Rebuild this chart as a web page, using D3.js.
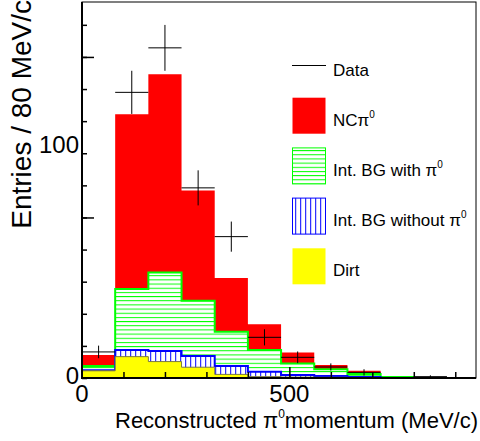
<!DOCTYPE html>
<html>
<head>
<meta charset="utf-8">
<script src="https://cdn.jsdelivr.net/npm/d3@7"></script>
<style>
  body { margin: 0; background: #fff; }
  svg { display: block; font-family: "Liberation Sans", Arial, sans-serif; }
</style>
</head>
<body>
<svg width="480" height="441"></svg>
<script>
// bins of 80 MeV/c
var binLow = [0, 80, 160, 240, 320, 400, 480, 560, 640, 720, 800, 880];
var binWidth = 80;

// per-component entries
var dirt      = [3.2, 9.5, 7.3, 4.8, 1.6, 0.6, 0.4, 0.3, 0.2, 0, 0, 0];
var bgNoPi0   = [0.2, 3.0, 4.7, 5.0, 3.7, 2.2, 0.9, 0.6, 0.2, 0, 0, 0];
var bgWithPi0 = [1.9, 27.1, 34.9, 24.6, 15.3, 9.7, 5.2, 3.0, 1.4, 0.4, 0, 0];
var ncPi0     = [4.9, 77.8, 88.3, 49.0, 23.9, 11.4, 4.8, 1.9, 1.4, 0.5, 0, 0];

var dataVals = [11.6, 127.1, 146.9, 84.6, 62.9, 18.1, 9.2, 4.9, 2.5, 0, 0.6, 0];
var dataErr  = [2.8, 9.6, 10.2, 7.8, 6.7, 3.6, 2.6, 1.6, 1.4, 0, 0.6, 0];

var xLabels = [0, 500];
var yLabels = [0, 100];

var svg = d3.select("svg");

var x = d3.scaleLinear().domain([0, 950]).range([82, 476]);
var y = d3.scaleLinear().domain([0, 167.3]).range([378, 2]);

var rows = binLow.map(function(lo, i) {
    return {lo: lo, dirt: dirt[i], bgNoPi0: bgNoPi0[i], bgWithPi0: bgWithPi0[i], ncPi0: ncPi0[i]};
});
var keys = ["dirt", "bgNoPi0", "bgWithPi0", "ncPi0"];
var stacked = d3.stack().keys(keys)(rows);

var defs = svg.append("defs");
defs.append("clipPath").attr("id", "plot")
    .append("rect").attr("x", 82).attr("y", 2).attr("width", 394).attr("height", 376);

var pg = defs.append("pattern").attr("id", "hatchGreen")
    .attr("patternUnits", "userSpaceOnUse").attr("width", 8).attr("height", 4.17);
pg.append("rect").attr("width", 8).attr("height", 4.17).attr("fill", "#fff");
pg.append("line").attr("x1", 0).attr("x2", 8).attr("y1", 0.5).attr("y2", 0.5)
    .attr("stroke", "#00ff00").attr("stroke-width", 1);

var pb = defs.append("pattern").attr("id", "hatchBlue")
    .attr("patternUnits", "userSpaceOnUse").attr("width", 5).attr("height", 8);
pb.append("rect").attr("width", 5).attr("height", 8).attr("fill", "#fff");
pb.append("line").attr("x1", 0.7).attr("x2", 0.7).attr("y1", 0).attr("y2", 8)
    .attr("stroke", "#0000ff").attr("stroke-width", 1);

var style = {
    ncPi0:     {fill: "#ff0000", stroke: "none", sw: 0},
    bgWithPi0: {fill: "url(#hatchGreen)", stroke: "#00ff00", sw: 2},
    bgNoPi0:   {fill: "url(#hatchBlue)", stroke: "#0000ff", sw: 2},
    dirt:      {fill: "#ffff00", stroke: "#7a7a40", sw: 1}
};

function stepPath(layer) {
    var p = d3.path();
    p.moveTo(x(binLow[0]), y(0));
    layer.forEach(function(d, i) {
        p.lineTo(x(binLow[i]), y(d[1]));
        p.lineTo(x(binLow[i] + binWidth), y(d[1]));
    });
    p.lineTo(x(binLow[binLow.length - 1] + binWidth), y(0));
    p.closePath();
    return p.toString();
}

var hist = svg.append("g").attr("clip-path", "url(#plot)");
// draw top of stack first, each sum from zero
stacked.slice().reverse().forEach(function(layer) {
    var s = style[layer.key];
    hist.append("path")
        .attr("d", stepPath(layer))
        .attr("fill", s.fill)
        .attr("stroke", s.stroke)
        .attr("stroke-width", s.sw);
});

// data points with error bars
var pts = hist.append("g").attr("stroke", "#000").attr("stroke-width", 1);
binLow.forEach(function(lo, i) {
    if (dataVals[i] <= 0) return;
    var cx = x(lo + binWidth / 2);
    pts.append("line")
        .attr("x1", x(lo)).attr("x2", x(lo + binWidth))
        .attr("y1", y(dataVals[i])).attr("y2", y(dataVals[i]));
    pts.append("line")
        .attr("x1", cx).attr("x2", cx)
        .attr("y1", y(dataVals[i] + dataErr[i])).attr("y2", y(dataVals[i] - dataErr[i]));
});

// frame
svg.append("rect").attr("x", 82).attr("y", 2).attr("width", 394).attr("height", 376)
    .attr("fill", "none").attr("stroke", "#000").attr("stroke-width", 1);

// y axis: minor ticks every 100/7, long ones every 500/7
var yMinor = d3.range(0, 12).map(function(k) { return k * 100 / 7; });
var yMajor = [500 / 7, 1000 / 7];
svg.append("g").attr("transform", "translate(82,0)")
    .call(d3.axisLeft(y).tickValues(yMinor).tickSize(-5).tickFormat(""))
    .call(function(g) { g.select(".domain").remove(); });
svg.append("g").attr("transform", "translate(82,0)")
    .call(d3.axisLeft(y).tickValues(yMajor).tickSize(-12).tickFormat(""))
    .call(function(g) { g.select(".domain").remove(); });

// x axis ticks
var xMinor = [100, 200, 300, 400, 600, 700, 800, 900];
svg.append("g").attr("transform", "translate(0,378)")
    .call(d3.axisBottom(x).tickValues(xMinor).tickSize(-6).tickFormat(""))
    .call(function(g) { g.select(".domain").remove(); });
svg.append("g").attr("transform", "translate(0,378)")
    .call(d3.axisBottom(x).tickValues([500]).tickSize(-11).tickFormat(""))
    .call(function(g) { g.select(".domain").remove(); });
svg.selectAll(".tick line").attr("stroke", "#000").attr("stroke-width", 1.5);

// axis lines
svg.append("line").attr("x1", 82).attr("x2", 82).attr("y1", 2).attr("y2", 379)
    .attr("stroke", "#000").attr("stroke-width", 2);
svg.append("line").attr("x1", 81).attr("x2", 476).attr("y1", 378).attr("y2", 378)
    .attr("stroke", "#000").attr("stroke-width", 2);

// tick labels
svg.selectAll(".ylab").data(yLabels).enter().append("text")
    .attr("class", "ylab")
    .attr("x", 79)
    .attr("y", function(d) { return y(d) + (d === 0 ? 6 : 0); })
    .attr("text-anchor", "end")
    .attr("font-size", 24)
    .text(function(d) { return d; });

svg.selectAll(".xlab").data(xLabels).enter().append("text")
    .attr("class", "xlab")
    .attr("x", function(d) { return x(d); })
    .attr("y", 402)
    .attr("text-anchor", "middle")
    .attr("font-size", 24)
    .text(function(d) { return d; });

// axis titles
var xt = svg.append("text").attr("x", 478).attr("y", 428)
    .attr("text-anchor", "end").attr("font-size", 22);
xt.append("tspan").text("Reconstructed π");
xt.append("tspan").attr("font-size", 12).attr("dy", -10).text("0");
xt.append("tspan").attr("dy", 10).text("momentum (MeV/c)");

svg.append("text")
    .attr("transform", "translate(31,0) rotate(-90)")
    .attr("text-anchor", "end")
    .attr("font-size", 28)
    .text("Entries / 80 MeV/c");

// legend
var legendItems = [
    {key: "data", label: "Data", sup: ""},
    {key: "ncPi0", label: "NCπ", sup: "0"},
    {key: "bgWithPi0", label: "Int. BG with π", sup: "0"},
    {key: "bgNoPi0", label: "Int. BG without π", sup: "0"},
    {key: "dirt", label: "Dirt", sup: ""}
];
var leg = svg.append("g");
legendItems.forEach(function(d, i) {
    var top = 47.5 + i * 50.2;
    if (d.key === "data") {
        leg.append("line").attr("x1", 292).attr("x2", 326)
            .attr("y1", top + 18).attr("y2", top + 18)
            .attr("stroke", "#000").attr("stroke-width", 1);
    } else {
        var s = style[d.key];
        leg.append("rect").attr("x", 292.5).attr("y", top).attr("width", 33).attr("height", 36)
            .attr("fill", s.fill)
            .attr("stroke", d.key === "bgWithPi0" || d.key === "bgNoPi0" ? s.stroke : "none")
            .attr("stroke-width", 1);
    }
    var t = leg.append("text").attr("x", 333).attr("y", top + 28).attr("font-size", 17);
    t.append("tspan").text(d.label);
    if (d.sup) t.append("tspan").attr("font-size", 10).attr("dy", -8).text(d.sup);
});
</script>
</body>
</html>
